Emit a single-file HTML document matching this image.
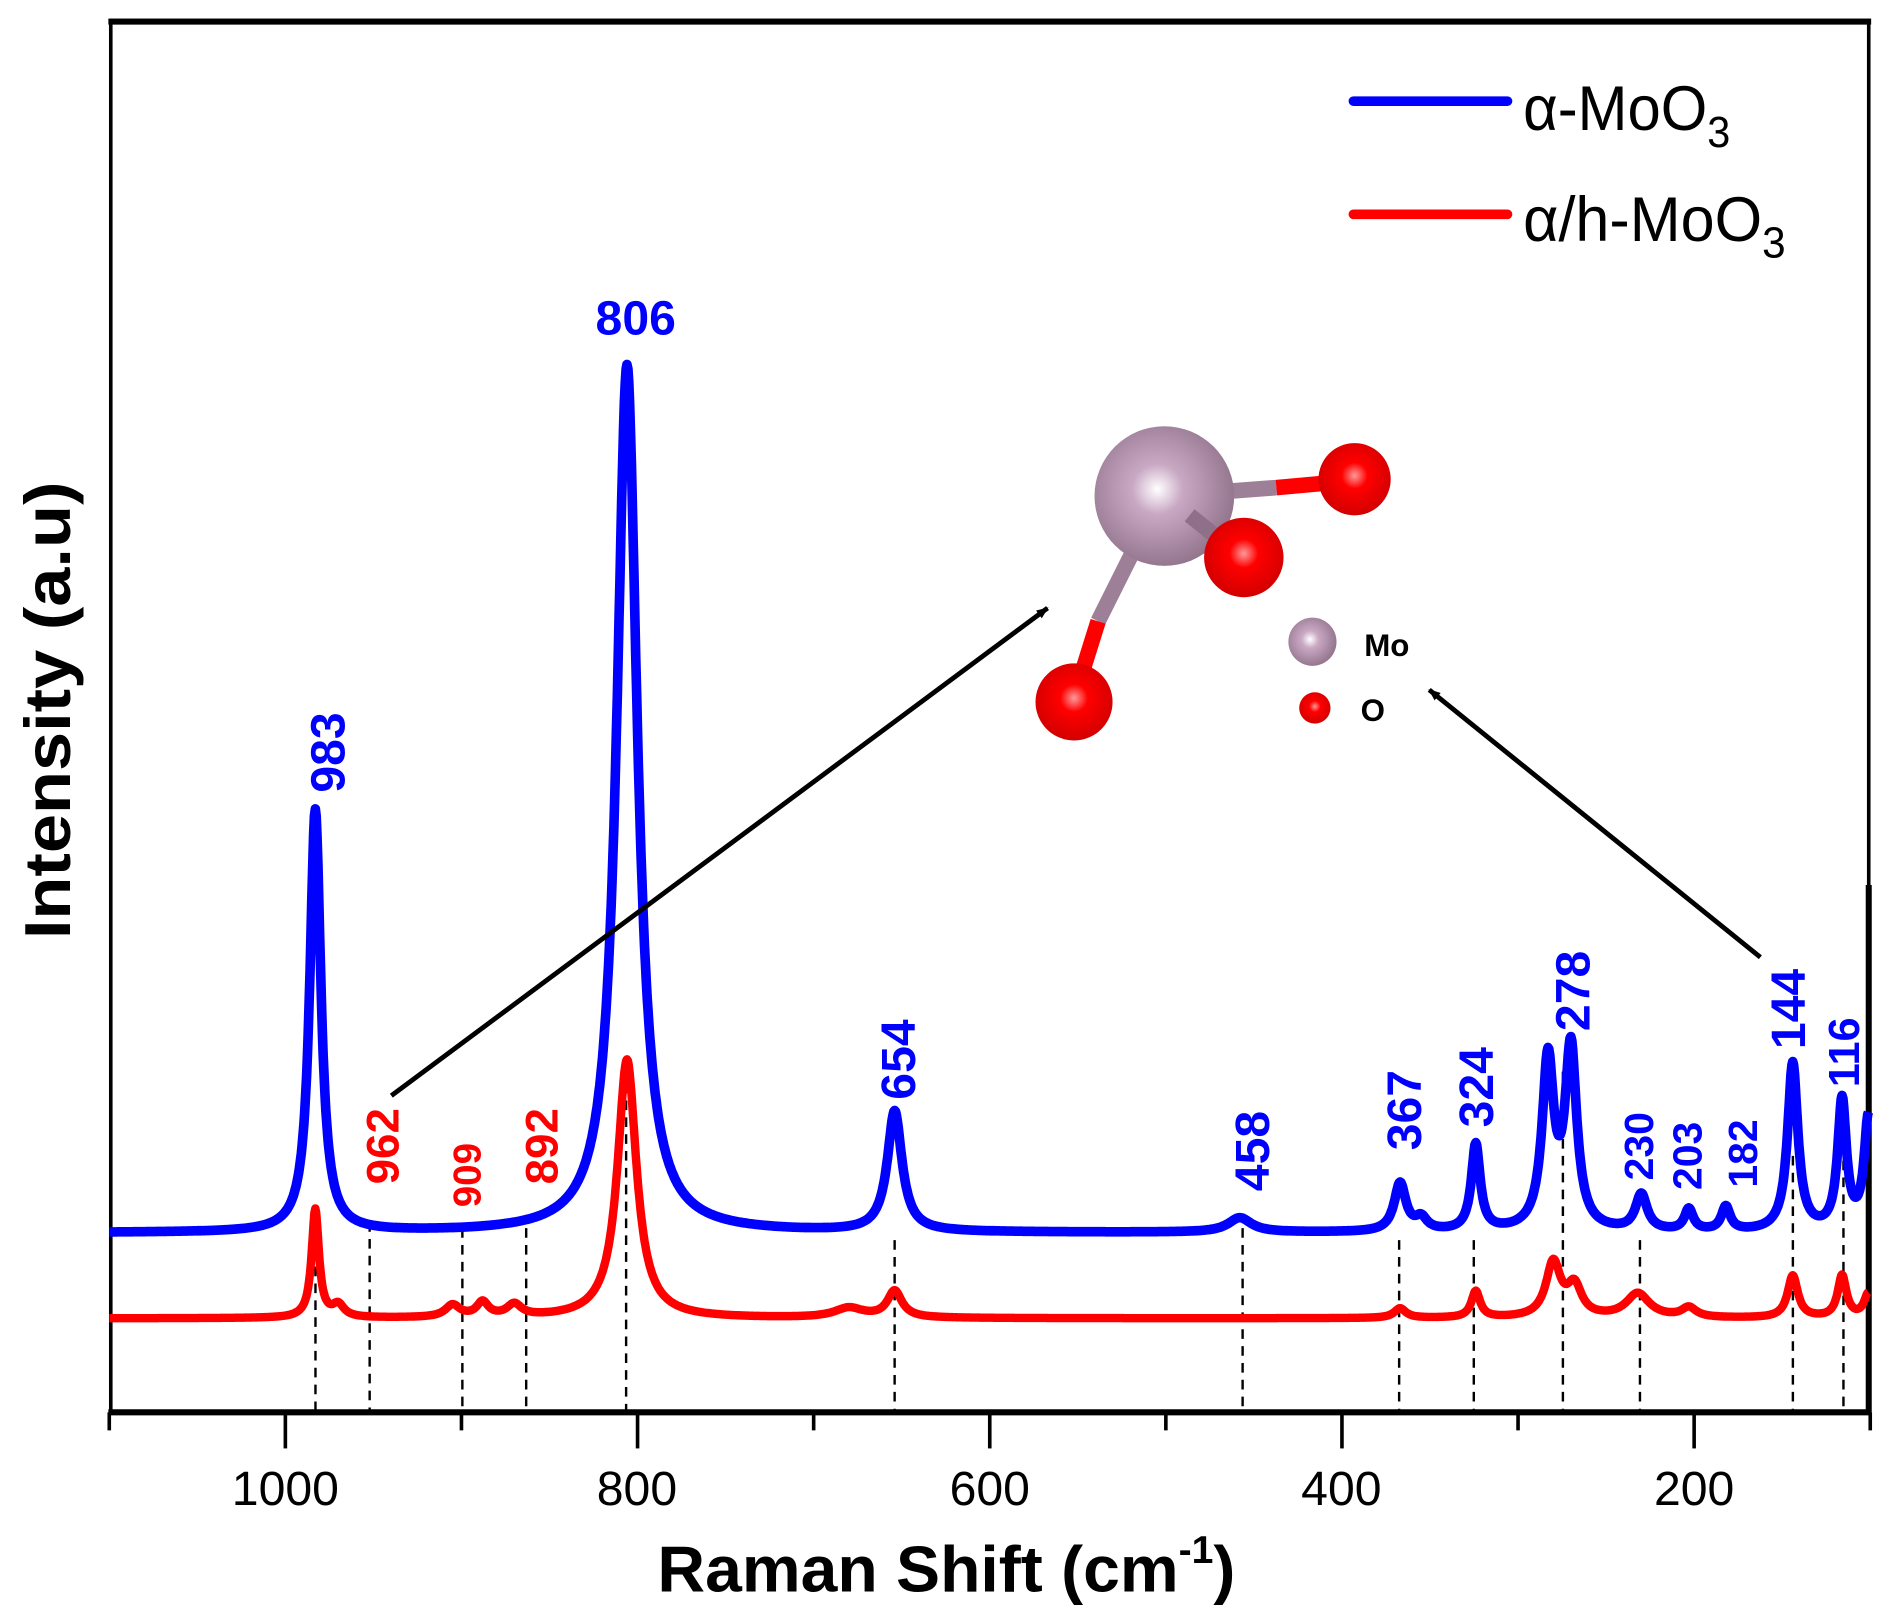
<!DOCTYPE html>
<html><head><meta charset="utf-8"><style>
html,body{margin:0;padding:0;background:#fff;}
svg{display:block;}
text{font-family:"Liberation Sans",Arial,sans-serif;}
</style></head><body>
<svg id="s" width="1888" height="1617" viewBox="0 0 1568 1343" preserveAspectRatio="none" xmlns="http://www.w3.org/2000/svg">
<defs>
<radialGradient id="gm" cx="0.45" cy="0.45" r="0.6"><stop offset="0" stop-color="#fff"/><stop offset="0.3" stop-color="#c9a8c4"/><stop offset="1" stop-color="#8e7088"/></radialGradient>
<radialGradient id="go" cx="0.5" cy="0.45" r="0.6"><stop offset="0" stop-color="#ff9a9a"/><stop offset="0.3" stop-color="#f00"/><stop offset="1" stop-color="#c00"/></radialGradient>
<marker id="ah" markerWidth="10" markerHeight="8" refX="9" refY="4" orient="auto" markerUnits="userSpaceOnUse" viewBox="0 0 10 8"><path d="M0,0 L10,4 L0,8 z" fill="#000"/></marker>
</defs>
<rect x="92" y="17" width="1460" height="1156" fill="none" stroke="#000" stroke-width="3"/>
<line x1="90" y1="18" x2="1554" y2="18" stroke="#000" stroke-width="5"/>
<line x1="90" y1="1173" x2="1554" y2="1173" stroke="#000" stroke-width="5"/>
<line x1="1552" y1="735" x2="1552" y2="1173" stroke="#000" stroke-width="5"/>
<g id="ticks" stroke="#000" stroke-width="3"></g>
<g id="dash" stroke="#000" stroke-width="2" stroke-dasharray="8,6"></g>
<path id="red" fill="none" stroke="#f00" stroke-width="7" stroke-linejoin="round"/>
<path id="blue" fill="none" stroke="#00f" stroke-width="8" stroke-linejoin="round"/>
<g font-size="40" text-anchor="middle">
<text x="237" y="1250">1000</text><text x="529" y="1250">800</text><text x="822" y="1250">600</text><text x="1114" y="1250">400</text><text x="1407" y="1250">200</text>
</g>
<text x="786" y="1322" font-size="54" font-weight="bold" text-anchor="middle" textLength="480" lengthAdjust="spacingAndGlyphs">Raman Shift (cm<tspan font-size="32" dy="-24">-1</tspan><tspan dy="24">)</tspan></text>
<text transform="translate(58,590) rotate(-90)" font-size="54" font-weight="bold" text-anchor="middle" textLength="380" lengthAdjust="spacingAndGlyphs">Intensity (a.u)</text>
<line x1="1124" y1="84" x2="1252" y2="84" stroke="#00f" stroke-width="8" stroke-linecap="round"/>
<line x1="1124" y1="178" x2="1252" y2="178" stroke="#f00" stroke-width="8" stroke-linecap="round"/>
<text x="1265" y="108" font-size="52" textLength="172" lengthAdjust="spacingAndGlyphs">α-MoO<tspan font-size="36" dy="14">3</tspan></text>
<text x="1265" y="200" font-size="52" textLength="218" lengthAdjust="spacingAndGlyphs">α/h-MoO<tspan font-size="36" dy="14">3</tspan></text>
<g fill="#00f" font-weight="bold" font-size="40">
<text x="528" y="278" text-anchor="middle">806</text>
<text transform="translate(286,625) rotate(-90)" text-anchor="middle">983</text>
<text transform="translate(760,880) rotate(-90)" text-anchor="middle">654</text>
<text transform="translate(1054,956) rotate(-90)" text-anchor="middle">458</text>
<text transform="translate(1180,922) rotate(-90)" text-anchor="middle">367</text>
<text transform="translate(1240,903) rotate(-90)" text-anchor="middle">324</text>
<text transform="translate(1320,823) rotate(-90)" text-anchor="middle">278</text>
<text transform="translate(1373,952) rotate(-90)" text-anchor="middle" font-size="34">230</text>
<text transform="translate(1413,960) rotate(-90)" text-anchor="middle" font-size="34">203</text>
<text transform="translate(1459,958) rotate(-90)" text-anchor="middle" font-size="34">182</text>
<text transform="translate(1499,838) rotate(-90)" text-anchor="middle">144</text>
<text transform="translate(1544,874) rotate(-90)" text-anchor="middle" font-size="36">116</text>
</g>
<g fill="#f00" font-weight="bold" font-size="38">
<text transform="translate(331,952) rotate(-90)" text-anchor="middle">962</text>
<text transform="translate(399,976) rotate(-90)" text-anchor="middle" font-size="32">909</text>
<text transform="translate(463,952) rotate(-90)" text-anchor="middle">892</text>
</g>
<line x1="325" y1="910" x2="870" y2="505" stroke="#000" stroke-width="4" marker-end="url(#ah)"/>
<line x1="1462" y1="795" x2="1187" y2="573" stroke="#000" stroke-width="4" marker-end="url(#ah)"/>
<g stroke-width="13">
<line x1="967" y1="412" x2="1060" y2="405" stroke="#9e7f98"/><line x1="1060" y1="405" x2="1115" y2="400" stroke="#f00"/>
<line x1="950" y1="440" x2="912" y2="516" stroke="#9e7f98"/><line x1="912" y1="516" x2="892" y2="580" stroke="#f00"/>
</g>
<circle cx="967" cy="412" r="58" fill="url(#gm)"/>
<line x1="988" y1="428" x2="1008" y2="444" stroke="#8e7088" stroke-width="13"/><line x1="1008" y1="444" x2="1025" y2="456" stroke="#f00" stroke-width="13"/>
<circle cx="1033" cy="463" r="33" fill="url(#go)"/>
<circle cx="1125" cy="398" r="30" fill="url(#go)"/>
<circle cx="892" cy="583" r="32" fill="url(#go)"/>
<circle cx="1090" cy="533" r="20" fill="url(#gm)"/>
<circle cx="1092" cy="588" r="13" fill="url(#go)"/>
<text x="1133" y="545" font-family="Liberation Serif,serif" font-weight="bold" font-size="26">Mo</text>
<text x="1130" y="599" font-family="Liberation Serif,serif" font-weight="bold" font-size="26">O</text>
</svg>
<script>
function X(v){return 237+(1000-v)*1.4625;}
var bp=[[983,351,3.8],[806,721,7],[654,100,5],[458,12,8],[367,40,4],[355,10,4],[324,72,3],[283,140,4],[270,150,4],[230,30,4],[203,18,3],[182,20,3],[144,140,3.5],[116,108,3],[101,95,3]];
var rp=[[983,90,2.5],[970,10,4],[905,10,5],[888,12,4],[870,10,5],[806,215,6.5],[680,8,10],[654,22,5],[367,8,4],[324,22,3],[280,45,5],[268,25,5],[232,20,8],[203,8,5],[144,35,3.5],[116,35,3],[101,20,3]];
function curve(p,base,id){var d='';for(var v=1100;v>=101;v-=0.5){var y=base;for(var i=0;i<p.length;i++){var t=(v-p[i][0])/p[i][2];y-=p[i][1]/(1+t*t);}d+=(d?'L':'M')+X(v).toFixed(1)+','+y.toFixed(1);}document.getElementById(id).setAttribute('d',d);}
curve(bp,1024,'blue');curve(rp,1095,'red');
var g=document.getElementById('ticks'),s='';
for(var v=1100;v>=100;v-=100){var x=X(v),L=(v%200==0)?30:15;s+='<line x1="'+x+'" y1="1173" x2="'+x+'" y2="'+(1173+L)+'"/>';}
g.innerHTML=s;
var dl=[[262,1010],[307,1015],[384,1020],[437,1020],[520,900],[743,1030],[1032,1020],[1162,1030],[1224,1030],[1298,890],[1362,1030],[1489,960],[1531,950]],ds='';
dl.forEach(function(a){var x=a[0];ds+='<line x1="'+x+'" y1="'+a[1]+'" x2="'+x+'" y2="1171"/>';});
document.getElementById('dash').innerHTML=ds;
</script>
</body></html>
